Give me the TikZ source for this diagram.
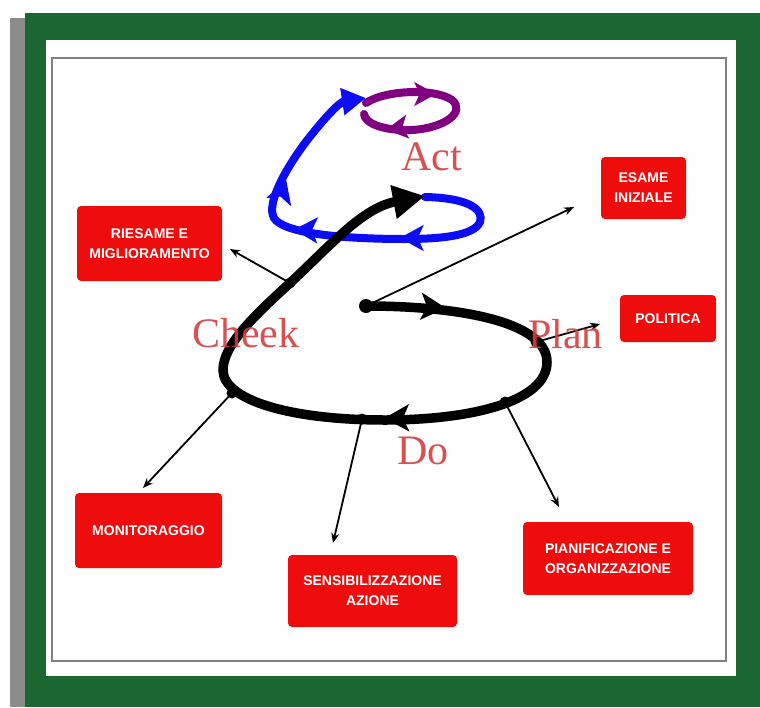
\documentclass[tikz,border=0pt]{standalone}
\usepackage{fontspec}
\setmainfont{Liberation Serif}
\newfontfamily\boxfont{Liberation Sans}
\usetikzlibrary{arrows.meta}
\definecolor{frameg}{RGB}{28,102,50}
\definecolor{stripgray}{RGB}{140,140,140}
\definecolor{boxred}{RGB}{238,12,12}
\definecolor{lblred}{RGB}{212,62,62}
\definecolor{mypurple}{RGB}{128,0,128}
\definecolor{myblue}{RGB}{12,12,245}
\newcommand\headtri[4]{\fill[#1,shift={(#2)},rotate=#3,scale=#4] (11,0) -- (-9,-11) -- (-4,0) -- (-9,11) -- cycle;}
\begin{document}
\begin{tikzpicture}[x=1pt,y=-1pt,
  redbox/.style={fill=boxred, rounded corners=4pt, text=white, font=\boxfont\bfseries\fontsize{14}{20}\selectfont, align=center, inner sep=0pt},
  conn/.style={line width=1.8pt, -{Stealth[length=10pt,width=8pt]}},
  phase/.style={text=lblred, font=\fontsize{42}{42}\selectfont, anchor=base west, inner sep=0pt, opacity=0.9},
  loopline/.style={line width=8pt, line cap=round},
  blackline/.style={line width=9.5pt, line cap=round},
  jdot/.style={fill=black}
]
\useasboundingbox (0,0) rectangle (760,707);
% frame
\fill[white] (0,0) rectangle (760,707);
\fill[stripgray] (10,18) rectangle (25,707);
\fill[frameg] (25,13) rectangle (760,707);
\fill[white] (46,40) rectangle (736,676);
\draw[gray, line width=2pt, fill=white] (52,58) rectangle (726,661);

% boxes
\node[redbox, minimum width=145pt, minimum height=75pt] (riesame) at (149.5,243.5) {RIESAME E\\MIGLIORAMENTO};
\node[redbox, minimum width=85pt, minimum height=62pt] (esame) at (643.5,188) {ESAME\\INIZIALE};
\node[redbox, minimum width=96pt, minimum height=47pt] (politica) at (668,318.5) {POLITICA};
\node[redbox, minimum width=147pt, minimum height=75pt] (monitor) at (148.5,530.5) {MONITORAGGIO};
\node[redbox, minimum width=169pt, minimum height=72pt] (sensib) at (372.5,591) {SENSIBILIZZAZIONE\\AZIONE};
\node[redbox, minimum width=170pt, minimum height=73pt] (pianif) at (608,558.5) {PIANIFICAZIONE E\\ORGANIZZAZIONE};

% junction coordinates
\coordinate (ctr) at (366,306);
\coordinate (jR) at (290,283);
\coordinate (jM) at (232,393);
\coordinate (jS) at (362,419);
\coordinate (jP) at (505,402);
\coordinate (jL) at (536,342);
\coordinate (tE) at (574,207);
\coordinate (tL) at (600,324);
\coordinate (tP) at (559,507);
\coordinate (tS) at (333,543);
\coordinate (tM) at (143,488);
\coordinate (tR) at (230,249);

% blue loop
\draw[loopline,myblue,-{Triangle[length=24pt,width=26pt]}] (425,197) .. controls (470,198) and (484,210) .. (480,222) .. controls (474,236) and (440,239) .. (405,239) .. controls (340,239) and (283,233) .. (274,218) .. controls (266,204) and (285,170) .. (305,143) .. controls (325,117) and (340,102) .. (366,98);
\headtri{myblue}{307,230}{178}{1.2}
\headtri{myblue}{413,238}{180}{1.2}
\headtri{myblue}{282,192}{72}{1.2}

% purple loop
\draw[loopline,mypurple] (366,103) .. controls (385,90) and (435,88) .. (452,100) .. controls (466,112) and (445,128) .. (412,130) .. controls (385,131) and (365,124) .. (364,114);
\headtri{mypurple}{424,94}{0}{1.1}
\headtri{mypurple}{398,128}{188}{1.1}

% black spiral
\draw[blackline,black,-{Triangle[length=32pt,width=32pt]}] (ctr) .. controls (460,306) and (547,322) .. (547,362) .. controls (547,402) and (470,420) .. (385,420) .. controls (290,420) and (223,400) .. (223,370) .. controls (223,345) and (255,315) .. (290,283) .. controls (330,246) and (362,208) .. (425,196);
\fill (ctr) circle (7pt);
\headtri{black}{432,307}{-4}{1.25}
\headtri{black}{398,418}{181}{1.25}
\foreach \j in {jR,jM,jS,jP,jL} \fill[jdot] (\j) circle (5.5pt);

% connectors
\draw[conn] (ctr) -- (tE);
\draw[conn] (jL) -- (tL);
\draw[conn] (jP) -- (tP);
\draw[conn] (jS) -- (tS);
\draw[conn] (jM) -- (tM);
\draw[conn] (jR) -- (tR);

% phase labels
\node[phase] (act) at (401,170) {Act};
\node[phase] (plan) at (528,348) {Plan};
\node[phase] (do) at (397,464) {Do};
\node[phase] (cheek) at (192,347) {Cheek};
\end{tikzpicture}
\end{document}
